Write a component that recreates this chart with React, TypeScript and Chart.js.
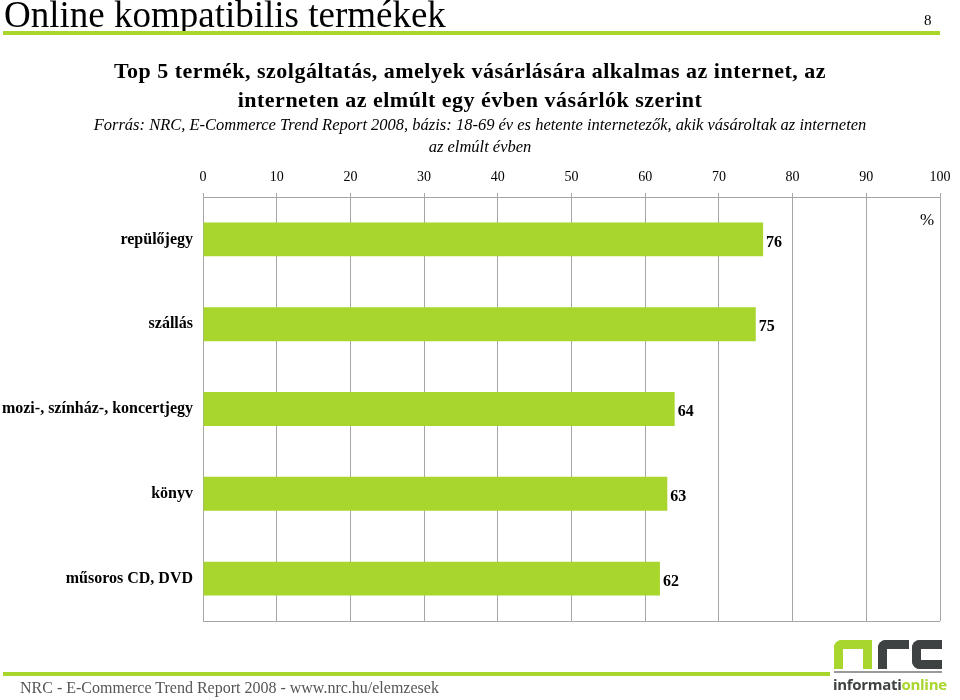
import React, { useEffect, useRef } from "react";
import { Chart, registerables } from "chart.js";

Chart.register(...registerables);

const categories = ["repülőjegy", "szállás", "mozi-, színház-, koncertjegy", "könyv", "műsoros CD, DVD"];
const values = [76, 75, 64, 63, 62];
const xTicks = [0, 10, 20, 30, 40, 50, 60, 70, 80, 90, 100];

const GREEN = "#a8d62c";
const SERIF = "'Liberation Serif', 'DejaVu Serif', serif";

const bottomLine = {
  id: "bottomLine",
  afterDraw(chart: any) {
    const { ctx, chartArea } = chart;
    ctx.save();
    ctx.strokeStyle = "#a6a6a6";
    ctx.lineWidth = 1;
    ctx.beginPath();
    ctx.moveTo(chartArea.left, Math.round(chartArea.bottom) + 0.5);
    ctx.lineTo(chartArea.right, Math.round(chartArea.bottom) + 0.5);
    ctx.stroke();
    ctx.restore();
  },
};

const valueLabels = {
  id: "valueLabels",
  afterDatasetsDraw(chart: any) {
    const { ctx } = chart;
    const meta = chart.getDatasetMeta(0);
    ctx.save();
    ctx.font = `bold 16px ${SERIF}`;
    ctx.fillStyle = "#000";
    ctx.textAlign = "left";
    ctx.textBaseline = "middle";
    meta.data.forEach((bar: any, i: number) => {
      ctx.fillText(String(values[i]), bar.x + 3, bar.y + 3);
    });
    ctx.restore();
  },
};

export default function App() {
  const ref = useRef<HTMLCanvasElement>(null);
  useEffect(() => {
    if (!ref.current) return;
    const chart = new Chart(ref.current, {
      type: "bar",
      data: {
        labels: categories,
        datasets: [
          {
            data: values,
            backgroundColor: GREEN,
            borderWidth: 0,
            barPercentage: 0.4,
            categoryPercentage: 1,
          },
        ],
      },
      options: {
        indexAxis: "y",
        animation: false,
        responsive: false,
        maintainAspectRatio: false,
        layout: { padding: { left: 0, right: 20, top: 160, bottom: 79 } },
        plugins: { legend: { display: false }, tooltip: { enabled: false } },
        scales: {
          x: {
            position: "top",
            min: 0,
            max: 100,
            afterBuildTicks(scale: any) {
              scale.ticks = xTicks.map((v) => ({ value: v }));
            },
            afterFit(scale: any) {
              scale.height = 37;
            },
            grid: { color: "#a6a6a6", lineWidth: 1, tickLength: 4, drawTicks: true },
            border: { color: "#a6a6a6" },
            ticks: {
              font: { family: SERIF, size: 14 },
              color: "#000",
              padding: 7,
              maxRotation: 0,
            },
          },
          y: {
            afterFit(scale: any) {
              scale.width = 203;
            },
            grid: { display: false },
            border: { color: "#a6a6a6" },
            ticks: {
              font: { family: SERIF, size: 16, weight: "bold" },
              color: "#000",
              padding: 2,
            },
          },
        },
      },
      plugins: [bottomLine, valueLabels],
    });
    return () => chart.destroy();
  }, []);

  return (
    <div style={{ position: "fixed", left: 0, top: 0, width: 960, height: 700, background: "#fff", overflow: "hidden", fontFamily: SERIF }}>
      <canvas ref={ref} width={960} height={700} style={{ position: "absolute", left: 0, top: 0 }} />
      <div style={{ position: "absolute", left: 4, top: -3, fontSize: 37, lineHeight: "36px", color: "#000", whiteSpace: "nowrap" }}>
        Online kompatibilis termékek
      </div>
      <div style={{ position: "absolute", left: 924, top: 12, fontSize: 15, color: "#000" }}>8</div>
      <div style={{ position: "absolute", left: 3, top: 31, width: 937, height: 4, background: GREEN }} />
      <div style={{ position: "absolute", left: 0, width: 940, top: 56, textAlign: "center", fontSize: 22, letterSpacing: 0.5, fontWeight: "bold", lineHeight: "29px", color: "#000" }}>
        Top 5 termék, szolgáltatás, amelyek vásárlására alkalmas az internet, az
        <br />
        interneten az elmúlt egy évben vásárlók szerint
      </div>
      <div style={{ position: "absolute", left: 0, width: 960, top: 114, textAlign: "center", fontSize: 16.5, fontStyle: "italic", lineHeight: "22px", color: "#000" }}>
        Forrás: NRC, E-Commerce Trend Report 2008, bázis: 18-69 év es hetente internetezők, akik vásároltak az interneten
        <br />
        az elmúlt évben
      </div>
      <div style={{ position: "absolute", left: 920, top: 210, fontSize: 17, color: "#000" }}>%</div>
      <div style={{ position: "absolute", left: 3, top: 672, width: 827, height: 4, background: GREEN }} />
      <div style={{ position: "absolute", left: 20, top: 679, fontSize: 16, color: "#555", whiteSpace: "nowrap" }}>
        NRC - E-Commerce Trend Report 2008 - www.nrc.hu/elemzesek
      </div>
      {/* logo */}
      <div style={{ position: "absolute", left: 834, top: 640, width: 20, height: 20, borderLeft: `9px solid ${GREEN}`, borderTop: `9px solid ${GREEN}`, borderRight: `9px solid ${GREEN}`, borderTopLeftRadius: 8 }} />
      <div style={{ position: "absolute", left: 878, top: 640, width: 22, height: 20, borderLeft: "9px solid #3f4242", borderTop: "9px solid #3f4242", borderTopLeftRadius: 8 }} />
      <div style={{ position: "absolute", left: 912, top: 640, width: 21, height: 11, borderLeft: "9px solid #3f4242", borderTop: "9px solid #3f4242", borderBottom: "9px solid #3f4242", borderTopLeftRadius: 8, borderBottomLeftRadius: 8 }} />
      <div style={{ position: "absolute", left: 834, top: 671, width: 108, height: 2, background: "#9a9a9a" }} />
      <div style={{ position: "absolute", left: 833, top: 674, fontSize: 15, fontWeight: "bold", fontFamily: "'Open Sans', 'Noto Sans', sans-serif", letterSpacing: -0.3, whiteSpace: "nowrap" }}>
        <span style={{ color: "#3f4242" }}>informati</span>
        <span style={{ color: GREEN }}>online</span>
      </div>
    </div>
  );
}
